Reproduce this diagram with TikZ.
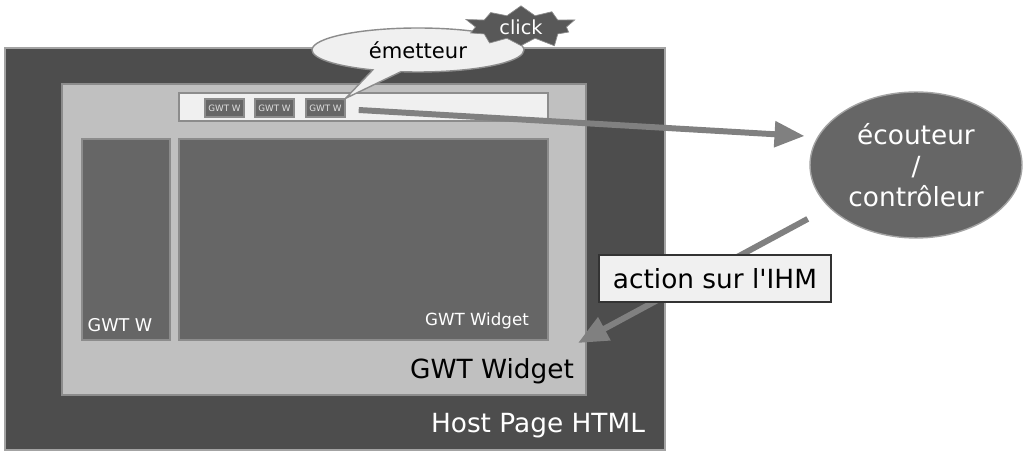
\documentclass[tikz,border=0pt]{standalone}
\usepackage{fontspec}
\setmainfont{DejaVu Sans}
\usetikzlibrary{arrows.meta}
\usetikzlibrary{shapes.geometric, shapes.symbols, shapes.callouts}
\definecolor{hostgray}{HTML}{4D4D4D}
\definecolor{widgetgray}{HTML}{C0C0C0}
\definecolor{panelgray}{HTML}{666666}
\definecolor{edgegray}{HTML}{8C8C8C}
\definecolor{palegray}{HTML}{F0F0F0}
\definecolor{arrowgray}{HTML}{808080}
\definecolor{burstgray}{HTML}{585858}
\tikzset{
  box/.style={draw=edgegray, line width=0.8pt, inner sep=0pt},
  btnbox/.style={box, fill=panelgray, minimum width=0.78cm, minimum height=0.36cm,
    text=white!88!black, font=\fontsize{5pt}{6pt}\selectfont},
  flow/.style={draw=arrowgray, line width=3.4pt, -{Triangle[length=0.6cm, width=0.5cm]}}
}
\begin{document}
\begin{tikzpicture}[x=0.02cm, y=-0.02cm]
        \newcommand{\gwtpanelheight}{4.02cm}
        \newcommand{\gwtpanely}{239.5}
        \newcommand{\gwtbtny}{108}
        \useasboundingbox (0,0) rectangle (1032,465);
        \node[box, fill=hostgray, draw=edgegray!80!white, minimum width=13.2cm, minimum height=8.04cm] (host) at (335,249) {};
        \node[text=white, font=\fontsize{15pt}{18pt}\selectfont] (hostlbl) at (538,426) {Host Page HTML};
        \node[box, fill=widgetgray, minimum width=10.48cm, minimum height=6.22cm] (widget) at (324,239.5) {};
        \node[font=\fontsize{15pt}{18pt}\selectfont] (widgetlbl) at (492,371) {GWT Widget};
        \node[box, fill=panelgray, minimum width=1.76cm, minimum height=\gwtpanelheight] (left) at (126,\gwtpanely) {};
        \node[text=white, font=\fontsize{10pt}{12pt}\selectfont] (leftlbl) at (120,325) {GWT W};
        \node[box, fill=panelgray, minimum width=7.38cm, minimum height=\gwtpanelheight] (main) at (363.5,\gwtpanely) {};
        \node[text=white, font=\fontsize{9.5pt}{11pt}\selectfont] (mainlbl) at (477,321) {GWT Widget};
        \node[box, fill=palegray, minimum width=7.38cm, minimum height=0.56cm] (bar) at (363.5,107) {};
        \node[btnbox] (btna) at (224.5,\gwtbtny) {GWT W};
        \node[btnbox] (btnb) at (274.5,\gwtbtny) {GWT W};
        \node[btnbox] (btnc) at (325.5,\gwtbtny) {GWT W};
        \node[ellipse callout, box, fill=palegray, minimum width=4.24cm, minimum height=0.88cm,
          callout absolute pointer={(btnc.north east)}, callout pointer arc=16,
          font=\fontsize{12pt}{14pt}\selectfont] (emit) at (418,50) {émetteur};
        \node[starburst, starburst points=10, starburst point height=0.26cm, draw=edgegray, fill=burstgray,
          inner xsep=6pt, inner ysep=0.5pt, text=white,
          font=\fontsize{11pt}{13pt}\selectfont] (click) at (521,27) {click};
        \node[ellipse, box, draw=edgegray!80!white, fill=panelgray, minimum width=4.24cm, minimum height=2.92cm,
          text=white, align=center, font=\fontsize{15pt}{17.5pt}\selectfont] (ctrl) at (916,165) {écouteur\\/\\contrôleur};
        \coordinate (hit) at (578,343);
        \draw[flow, shorten >=0.26cm] ([xshift=0.26cm, yshift=-0.04cm]btnc.east) -- (ctrl.164);
        \draw[flow, shorten <=0.48cm] (ctrl.206) -- (hit);
        \node[draw=black!80, line width=0.8pt, fill=palegray, minimum width=4.64cm, minimum height=0.94cm,
          inner sep=0pt, font=\fontsize{15pt}{18pt}\selectfont] (action) at (715,278.5) {action sur l\textquotesingle IHM};
        \end{tikzpicture}
\end{document}
